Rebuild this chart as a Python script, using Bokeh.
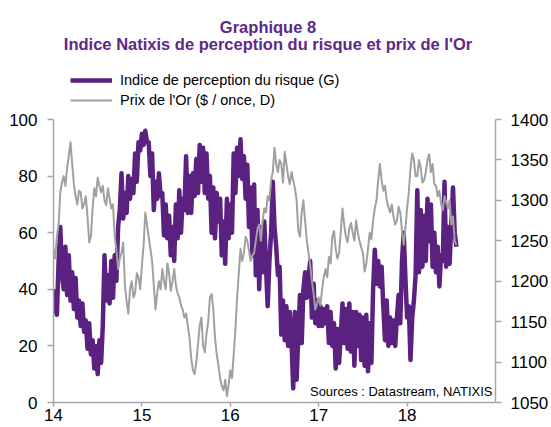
import numpy as np
from bokeh.plotting import figure
from bokeh.models import (Range1d, LinearAxis, FixedTicker, Legend, LegendItem, Label)
from bokeh.embed import file_html
from bokeh.resources import INLINE

# ---- data (weekly readings starting Jan 2014) ----
t_start = 14.0            # year 2014 written as "14"
week = 1.0 / 52

risk = [40, 33, 31, 50, 62, 45, 40, 55, 38, 52,
        36, 46, 33, 44, 30, 36, 27, 35, 25, 29,
        19, 28, 17, 22, 12, 20, 10, 22, 14, 27,
        52, 36, 45, 35, 50, 37, 52, 43, 62, 68,
        81, 65, 74, 67, 80, 72, 79, 74, 88, 78,
        92, 89, 95, 91, 96, 92, 92, 80, 88, 68,
        78, 72, 81, 73, 74, 59, 70, 58, 66, 52,
        62, 50, 70, 58, 75, 60, 72, 68, 87, 67,
        80, 67, 81, 73, 86, 74, 91, 78, 90, 74,
        88, 72, 80, 60, 76, 58, 74, 64, 72, 52,
        64, 49, 72, 58, 70, 60, 88, 74, 90, 80,
        93, 79, 87, 72, 84, 62, 76, 52, 77, 45,
        68, 40, 62, 46, 64, 48, 34, 50, 60, 78,
        62, 55, 45, 48, 24, 36, 22, 34, 20, 32,
        22, 5, 32, 8, 24, 38, 21, 40, 46, 37,
        44, 50, 30, 42, 28, 36, 27, 34, 27, 33,
        28, 34, 21, 32, 20, 28, 12, 26, 14, 24,
        35, 21, 33, 19, 35, 18, 32, 13, 32, 20,
        31, 15, 30, 13, 31, 11, 28, 14, 40, 54,
        42, 50, 41, 48, 34, 22, 36, 20, 30, 21,
        29, 20, 30, 38, 28, 50, 60, 44, 30, 34,
        15, 30, 36, 45, 75, 46, 68, 48, 66, 50,
        72, 57, 70, 48, 60, 46, 55, 41, 52, 50,
        78, 48, 62, 49, 63, 76, 60, 55]

gold = [1240, 1228, 1255, 1270, 1310, 1322, 1330, 1318, 1340, 1355,
        1372, 1345, 1320, 1305, 1295, 1312, 1310, 1290, 1295, 1305,
        1280, 1248, 1255, 1290, 1315, 1305, 1328, 1318, 1310, 1318,
        1300, 1294, 1315, 1302, 1290, 1295, 1255, 1240, 1215, 1228,
        1235, 1248, 1195, 1175, 1160, 1190, 1200, 1180, 1185, 1210,
        1205, 1190, 1220, 1245, 1285, 1270, 1255, 1240, 1225, 1195,
        1165, 1185, 1200, 1190, 1215, 1200, 1190, 1222, 1210, 1188,
        1200, 1215, 1195, 1185, 1180, 1170, 1165, 1155, 1160, 1145,
        1130, 1105, 1090, 1085, 1100, 1122, 1145, 1155, 1120, 1112,
        1135, 1150, 1180, 1184, 1165, 1130, 1110, 1096, 1080, 1070,
        1065, 1078, 1058, 1072, 1090, 1080, 1110, 1140, 1180, 1210,
        1240, 1225, 1235, 1255, 1250, 1238, 1225, 1232, 1235, 1250,
        1265, 1270, 1250, 1275, 1290, 1285, 1305, 1300, 1325, 1335,
        1365, 1345, 1335, 1350, 1345, 1322, 1360, 1345, 1330, 1320,
        1335, 1325, 1315, 1300, 1262, 1255, 1285, 1300, 1275, 1250,
        1235, 1220, 1200, 1185, 1165, 1172, 1180, 1170, 1190, 1205,
        1215, 1205, 1230, 1222, 1255, 1262, 1240, 1228, 1235, 1262,
        1290, 1270, 1255, 1248, 1265, 1272, 1260, 1250, 1275, 1260,
        1250, 1242, 1235, 1212, 1222, 1240, 1260, 1252, 1275, 1290,
        1300, 1325, 1345, 1325, 1312, 1318, 1300, 1292, 1285, 1295,
        1280, 1270, 1275, 1292, 1285, 1262, 1245, 1265, 1290, 1310,
        1340, 1358, 1350, 1330, 1330, 1350, 1340, 1322, 1325, 1335,
        1350, 1357, 1335, 1345, 1320, 1318, 1305, 1312, 1295, 1288,
        1305, 1298, 1290, 1300, 1270, 1280, 1250, 1245]

x_ticks = [14, 15, 16, 17, 18]
left_ticks = [0, 20, 40, 60, 80, 100]
right_ticks = [1050, 1100, 1150, 1200, 1250, 1300, 1350, 1400]

title_1 = "Graphique 8"
title_2 = "Indice Natixis de perception du risque et prix de l'Or"
label_risk = "Indice de perception du risque (G)"
label_gold = "Prix de l'Or ($ / once, D)"
source_text = "Sources : Datastream, NATIXIS"

# ---- styles ----
PURPLE = "#5A2181"
TITLE_PURPLE = "#5F2787"
GREY = "#A0A0A0"
AXIS = "#A6A6A6"
FONT = "Liberation Sans"

# The frame runs up to the top of the canvas (the header lives inside it);
# the axes are bounded to the value ranges.
LEFT_MIN, LEFT_MAX = 0, 100
RIGHT_MIN, RIGHT_MAX = 1050, 1400
FRAME_TOP_EXTRA = 402.0 / 283.0   # frame spans 402 px, value band spans 283 px

t_risk = t_start + week * np.arange(len(risk))
t_gold = t_start + week * np.arange(len(gold))

p = figure(width=551, height=427, output_backend="svg", toolbar_location=None,
           x_range=Range1d(14, 19),
           y_range=Range1d(LEFT_MIN, LEFT_MIN + (LEFT_MAX - LEFT_MIN) * FRAME_TOP_EXTRA),
           min_border_left=53, min_border_right=54, min_border_top=0,
           min_border_bottom=25)
p.extra_y_ranges = {"gold": Range1d(RIGHT_MIN, RIGHT_MIN + (RIGHT_MAX - RIGHT_MIN) * FRAME_TOP_EXTRA)}
p.outline_line_color = None
p.xgrid.visible = False
p.ygrid.visible = False
p.background_fill_color = "white"
p.border_fill_color = "white"

r_risk = p.line(t_risk, risk, line_color=PURPLE, line_width=4.5, line_join="round")
r_gold = p.line(t_gold, gold, line_color=GREY, line_width=2, line_join="round",
                y_range_name="gold")

def style_axis(ax, standoff, tick_out):
    ax.axis_line_color = AXIS
    ax.axis_line_width = 1.5
    ax.major_tick_line_color = AXIS
    ax.major_tick_line_width = 1.5
    ax.major_tick_out = tick_out
    ax.major_tick_in = 0
    ax.minor_tick_line_color = None
    ax.major_label_text_font = FONT
    ax.major_label_text_font_size = "17px"
    ax.major_label_text_color = "black"
    ax.major_label_standoff = standoff

yl = p.yaxis[0]
yl.ticker = FixedTicker(ticks=left_ticks)
yl.bounds = (LEFT_MIN, LEFT_MAX)
style_axis(yl, 10, 6)

yr = LinearAxis(y_range_name="gold", ticker=FixedTicker(ticks=right_ticks),
                bounds=(RIGHT_MIN, RIGHT_MAX))
style_axis(yr, 9, 6)
p.add_layout(yr, "right")

xa = p.xaxis[0]
xa.ticker = FixedTicker(ticks=x_ticks)
style_axis(xa, 2, 4)

# header titles (frame-relative pixels)
for txt, yy in [(title_1, 376), (title_2, 358.5)]:
    p.add_layout(Label(x=214.5, y=yy, x_units="screen", y_units="screen", text=txt,
                       text_align="center", text_baseline="alphabetic",
                       text_font=FONT, text_font_size="16.5px", text_font_style="bold",
                       text_color=TITLE_PURPLE))

p.add_layout(Label(x=439, y=11, x_units="screen", y_units="screen", text=source_text,
                   text_align="right", text_baseline="alphabetic",
                   text_font=FONT, text_font_size="13px", text_color="black"))

legend = Legend(items=[LegendItem(label=label_risk, renderers=[r_risk]),
                       LegendItem(label=label_gold, renderers=[r_gold])],
                location=(17, 292.5))
legend.label_text_font = FONT
legend.label_text_font_size = "14.5px"
legend.label_text_color = "black"
legend.glyph_width = 42
legend.glyph_height = 20
legend.label_height = 20
legend.label_standoff = 8
legend.spacing = 0
legend.padding = 0
legend.margin = 0
legend.border_line_color = None
legend.background_fill_alpha = 0
p.add_layout(legend)

open("out.html", "w").write(file_html(p, INLINE))
